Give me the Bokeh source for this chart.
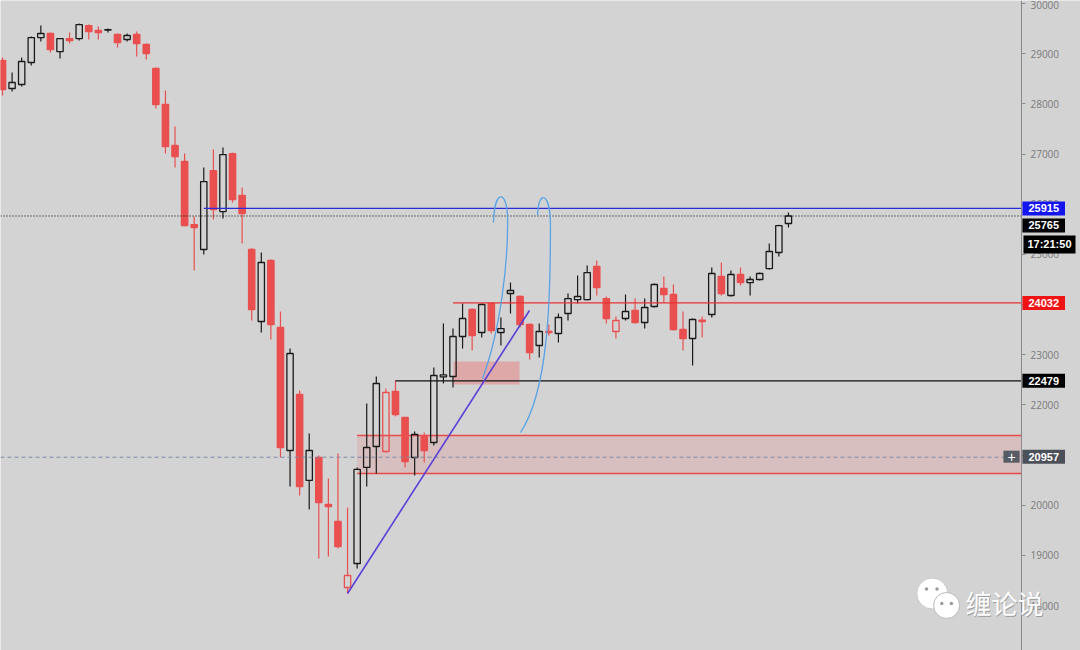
from bokeh.plotting import figure
from bokeh.models import Range1d, Label, FixedTicker, LinearAxis
from bokeh.embed import file_html
from bokeh.resources import INLINE

# ---------------- data ----------------
opens  = [28864, 28306, 28386, 28824, 29322, 29402, 29043, 29302, 29302, 29561,
          29462, 29470, 29382, 29283, 29382, 29183, 28705, 27987, 27170, 26851,
          25595, 25097, 26671, 25854, 27010, 26174, 25097, 23662, 24878, 23543,
          21091, 22207, 20494, 20952, 20015, 19676, 18361, 18839, 20753, 21171,
          21071, 22267, 21749, 20952, 21370, 21251, 22560, 22566, 23363, 23901,
          23443, 24021, 23443, 24220, 24160, 23602, 23184, 23463, 23423, 23822,
          24100, 24100, 24758, 24120, 23463, 23722, 23881, 23642, 23961, 24320,
          24200, 23503, 23323, 23662, 23802, 24559, 24180, 24599, 24439, 24499,
          24718, 25037, 25615]
highs  = [28924, 28625, 28924, 29342, 29561, 29422, 29302, 29422, 29601, 29581,
          29541, 29502, 29402, 29402, 29442, 29203, 28725, 28266, 27549, 27010,
          25755, 26731, 27090, 27130, 27030, 26333, 25120, 25037, 24900, 23861,
          23124, 22287, 21430, 20992, 20534, 21031, 19955, 20753, 22028, 22566,
          22327, 22486, 21760, 21470, 21450, 22746, 23622, 23522, 24021, 23920,
          24021, 24040, 23742, 24439, 24180, 23622, 23622, 23602, 23822, 24220,
          24579, 24778, 24878, 24160, 23762, 24200, 24120, 24120, 24419, 24559,
          24400, 23861, 23720, 23762, 24738, 24838, 24679, 24738, 24559, 24638,
          25217, 25590, 25835]
lows   = [28166, 28246, 28346, 28764, 29243, 29023, 28904, 29203, 29263, 29283,
          29283, 29422, 29123, 29243, 28944, 28884, 27907, 27010, 26731, 25560,
          24679, 24998, 25695, 25715, 26034, 25217, 23682, 23443, 23303, 20952,
          20374, 20195, 19915, 18939, 18979, 19138, 18241, 18740, 20374, 20633,
          21050, 21770, 20753, 20594, 20853, 21191, 22427, 22347, 23124, 23084,
          23343, 23423, 23184, 23822, 23543, 22905, 22945, 23383, 23243, 23682,
          24021, 24080, 24180, 23622, 23323, 23682, 23622, 23522, 23941, 24041,
          23483, 23084, 22785, 23343, 23742, 24180, 24160, 24379, 24180, 24479,
          24698, 24958, 25535]
closes = [28286, 28426, 28844, 29322, 29402, 29083, 29302, 29263, 29581, 29442,
          29422, 29480, 29223, 29362, 29203, 29004, 27987, 27150, 26951, 25575,
          25536, 26452, 25894, 26990, 26094, 25815, 23901, 24838, 23602, 21151,
          23024, 20374, 21091, 20055, 19975, 19178, 18600, 20713, 21151, 22427,
          22247, 21809, 20872, 21410, 21091, 22586, 22600, 23363, 23722, 23383,
          24001, 23483, 23522, 24280, 23602, 23044, 23463, 23443, 23742, 24120,
          24160, 24638, 24340, 23722, 23682, 23862, 23642, 23941, 24400, 24200,
          23503, 23323, 23702, 23690, 24619, 24220, 24599, 24439, 24499, 24619,
          25057, 25575, 25765]

price_ticks = [18000, 19000, 20000, 21000, 22000, 23000, 24000, 25000,
               26000, 27000, 28000, 29000, 30000]

# drawn levels / objects (bar index, price)
axis_at = 106.31                       # bar-index position of the price scale
blue_level, blue_start = 25915, 21
last_price = 25765
red_level, red_start = 24032, 47
black_level, black_start = 22479, 41
cross_price = 20957
zone_left, zone_top, zone_bottom = 37.0, 21390, 20633
box_left, box_right, box_top, box_bottom = 47.05, 53.94, 22865, 22407
trend_x = [36.0, 54.98]
trend_y = [18241, 23881]
# bezier arcs: start, control 0, control 1, end
arc_x0 = [50.08, 52.69, 54.04, 57.17]
arc_y0 = [22526, 25775, 21450, 25575]
arc_cx0 = [51.96, 52.58, 56.96, 57.17]
arc_cy0 = [23483, 26273, 22287, 26233]
arc_cx1 = [52.79, 51.33, 57.17, 55.92]
arc_cy1 = [24878, 26313, 24081, 26313]
arc_x1 = [52.69, 51.23, 57.17, 55.82]
arc_y1 = [25775, 25635, 25575, 25775]

clock_text = "17:21:50"
watermark = "缠论说"

# ---------------- figure ----------------
BG = "#d3d3d3"
RED = "#ea4f4f"
BLK = "#1a1a1a"

p = figure(width=1080, height=650, output_backend="svg", toolbar_location=None,
           x_range=Range1d(-0.2087, 112.47), y_range=Range1d(17105, 30060),
           x_axis_location=None, y_axis_location=None,
           min_border_left=0, min_border_top=0, min_border_bottom=0, min_border_right=0)
p.background_fill_color = BG
p.border_fill_color = BG
p.outline_line_color = None
p.grid.visible = False

ax = LinearAxis(fixed_location=axis_at, ticker=FixedTicker(ticks=price_ticks))
ax.axis_line_color = "#8a8a8a"
ax.major_tick_line_color = "#8a8a8a"
ax.major_tick_in = 0
ax.major_tick_out = 4
ax.minor_tick_line_color = None
ax.major_label_text_color = "#7a7a7a"
ax.major_label_text_font = "Open Sans"
ax.major_label_text_font_size = "10px"
ax.major_label_standoff = 5
p.add_layout(ax, "right")

# zones (under candles)
p.quad(left=[zone_left], right=[axis_at], top=[zone_top], bottom=[zone_bottom],
       fill_color="#f06060", fill_alpha=0.17, line_color=None)
p.segment(x0=[zone_left, zone_left], y0=[zone_top, zone_bottom],
          x1=[axis_at, axis_at], y1=[zone_top, zone_bottom], line_color="#e84a4a", line_width=1.3)
p.quad(left=[box_left], right=[box_right], top=[box_top], bottom=[box_bottom],
       fill_color="#f06060", fill_alpha=0.38, line_color=None)

# candles
n = len(opens)
xs = list(range(n))
tops = [max(o, c) for o, c in zip(opens, closes)]
bots = [min(o, c) for o, c in zip(opens, closes)]
colors, fills = [], []
for i in range(n):
    prev = closes[i - 1] if i > 0 else opens[i] + 1
    col = BLK if closes[i] >= prev else RED
    colors.append(col)
    fills.append(None if closes[i] > opens[i] else col)
fill_alpha = [0.0 if f is None else 1.0 for f in fills]
fills = [BG if f is None else f for f in fills]

p.segment(x0=xs, y0=tops, x1=xs, y1=highs, line_color=colors, line_width=1.2)
p.segment(x0=xs, y0=bots, x1=xs, y1=lows, line_color=colors, line_width=1.2)
p.vbar(x=xs, top=tops, bottom=bots, width=0.66, fill_color=fills, fill_alpha=fill_alpha,
       line_color=colors, line_width=1.3)

# horizontal lines
x_left = p.x_range.start
p.segment(x0=[x_left], y0=[last_price], x1=[axis_at], y1=[last_price],
          line_color="#000000", line_dash="1 2", line_width=1)
p.segment(x0=[x_left], y0=[cross_price], x1=[axis_at], y1=[cross_price],
          line_color="#7e8aa6", line_dash="4 3", line_width=1)
p.segment(x0=[blue_start], y0=[blue_level], x1=[axis_at], y1=[blue_level],
          line_color="#2b2bdc", line_width=1.2)
p.segment(x0=[red_start], y0=[red_level], x1=[axis_at], y1=[red_level],
          line_color="#e83232", line_width=1.2)
p.segment(x0=[black_start], y0=[black_level], x1=[axis_at], y1=[black_level],
          line_color="#111111", line_width=1.2)

# trend line and arcs
p.line(trend_x, trend_y, line_color="#5a3fd8", line_width=1.6)
p.bezier(x0=arc_x0, y0=arc_y0, x1=arc_x1, y1=arc_y1, cx0=arc_cx0, cy0=arc_cy0,
         cx1=arc_cx1, cy1=arc_cy1, line_color="#5aa2e6", line_width=1.3)

# price tags on the axis
tag_x = 106.41
def tag(y, text, bg):
    p.add_layout(Label(x=tag_x, y=y, text=text, text_align="left", text_baseline="middle",
                       text_color="white", text_font="Liberation Sans", text_font_style="bold",
                       text_font_size="11px", background_fill_color=bg,
                       padding=(6, 3), level="overlay"))

tag(blue_level, str(blue_level), "#1414f0")
tag(25576, str(last_price), "#000000")
tag(24031, str(red_level), "#f01414")
tag(black_level, str(black_level), "#000000")
tag(20968, str(cross_price), "#4b5059")
p.add_layout(Label(x=106.52, y=25197, text=clock_text, text_align="left", text_baseline="middle",
                   text_color="white", text_font="Liberation Sans", text_font_style="bold",
                   text_font_size="11px", background_fill_color="#000000",
                   padding=(4, 3), level="overlay"))
p.add_layout(Label(x=104.43, y=20968, text="+", text_align="left", text_baseline="middle",
                   text_color="white", text_font="Liberation Sans",
                   text_font_size="14px", background_fill_color="#565b64",
                   padding=(4, 1), level="overlay"))

# watermark
p.scatter(x=[97.0], y=[18241], size=31, marker="circle", fill_color="white",
          line_color="#c8c8c8", line_width=1)
p.scatter(x=[98.5], y=[18002], size=26, marker="circle", fill_color="white",
          line_color="#b8b8b8", line_width=1)
p.scatter(x=[96.4, 97.5, 98.0, 99.0], y=[18330, 18330, 18040, 18040], size=3.5,
          marker="circle", fill_color="#9a9a9a", line_color=None)
p.add_layout(Label(x=100.55, y=18042, text=watermark, text_align="left", text_baseline="middle",
                   text_color="#9a9a9a", text_font="Noto Sans CJK SC", text_font_size="26px",
                   level="overlay"))
p.add_layout(Label(x=100.47, y=18062, text=watermark, text_align="left", text_baseline="middle",
                   text_color="white", text_font="Noto Sans CJK SC", text_font_size="26px",
                   level="overlay"))

open("out.html", "w").write(file_html(p, INLINE))
